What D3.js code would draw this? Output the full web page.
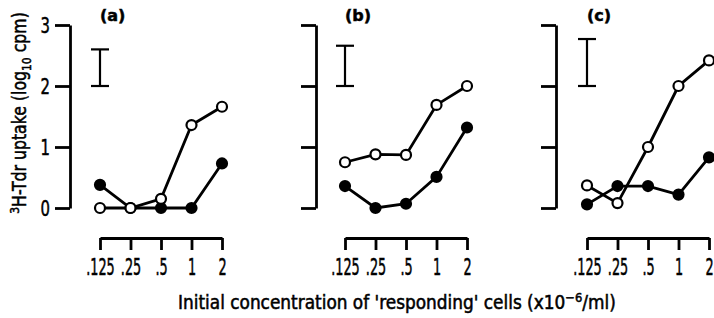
<!DOCTYPE html>
<html>
<head>
<meta charset="utf-8">
<script src="https://cdn.jsdelivr.net/npm/d3@7"></script>
<style>
	body { margin: 0; background: #fff; }
	svg { display: block; }
	text { font-family: "DejaVu Sans Condensed", "DejaVu Sans", sans-serif; fill: #000; stroke: #000; stroke-width: 0.5; }
</style>
</head>
<body>
<div id="chart"></div>
<script>
const concentrations = [".125", ".25", ".5", "1", "2"];
const panelLabels = ["(a)", "(b)", "(c)"];
// log10 cpm, open circles
const openSeries = [
	[0, 0, 0.15, 1.36, 1.66],
	[0.75, 0.88, 0.87, 1.69, 2.0],
	[0.37, 0.08, 1.0, 2.0, 2.42]
];
// log10 cpm, filled circles
const filledSeries = [
	[0.38, 0, 0, 0, 0.73],
	[0.36, 0, 0.07, 0.51, 1.32],
	[0.06, 0.36, 0.36, 0.22, 0.83]
];
// error bar (2 to top)
const errorBars = [[2, 2.6], [2, 2.66], [2, 2.77]];
const yTicks = [0, 1, 2, 3];

const width = 714, height = 318;
const svg = d3.select("#chart").append("svg")
	.attr("width", width)
	.attr("height", height);

const y = d3.scaleLinear().domain([0, 3]).range([208, 25]);
const panelLeft = [100, 345, 587];
const axisX = [70, 316, 556];
const panelWidth = 122;
const xAxisY = 238;
const squeeze = 0.62;

panelLabels.forEach((label, p) => {
	const g = svg.append("g");
	const x = d3.scalePoint()
		.domain(concentrations)
		.range([panelLeft[p], panelLeft[p] + panelWidth]);

	// Y axis
	const yAxis = d3.axisLeft(y)
		.tickValues(yTicks)
		.tickSize(15)
		.tickSizeOuter(0)
		.tickFormat(p == 0 ? d3.format("d") : "");
	const yg = g.append("g")
		.attr("transform", "translate(" + axisX[p] + ",0)")
		.call(yAxis);
	yg.select(".domain").attr("stroke-width", 2.8);
	yg.selectAll(".tick line").attr("stroke-width", 2.8);
	yg.selectAll(".tick text")
		.attr("font-size", 22)
		.attr("transform", "scale(0.75,1)")
		.attr("x", -20 / 0.75)
		.attr("dy", "0.36em");

	// X axis (line on top, ticks pointing down)
	const xAxis = d3.axisBottom(x)
		.tickSize(12)
		.tickSizeOuter(0);
	const xg = g.append("g")
		.attr("transform", "translate(0," + xAxisY + ")")
		.call(xAxis);
	xg.select(".domain").attr("stroke-width", 2.8);
	xg.selectAll(".tick line").attr("stroke-width", 2.8);
	xg.selectAll(".tick text")
		.attr("font-size", 23)
		.attr("transform", "scale(" + squeeze + ",1)")
		.attr("y", 21);

	// Panel label
	g.append("text")
		.attr("x", x(concentrations[0]))
		.attr("y", 21)
		.attr("font-size", 16)
		.attr("font-weight", "bold")
		.style("font-family", "'DejaVu Sans', sans-serif")
		.text(label);

	// Error bar
	const eb = errorBars[p];
	const ex = x(concentrations[0]);
	const eg = g.append("g").attr("stroke", "#000").attr("stroke-width", 2.2);
	eg.append("line").attr("x1", ex).attr("x2", ex).attr("y1", y(eb[0])).attr("y2", y(eb[1]));
	eg.append("line").attr("x1", ex - 9).attr("x2", ex + 9).attr("y1", y(eb[0])).attr("y2", y(eb[0]));
	eg.append("line").attr("x1", ex - 9).attr("x2", ex + 9).attr("y1", y(eb[1])).attr("y2", y(eb[1]));

	const line = d3.line()
		.x((d, i) => x(concentrations[i]))
		.y(d => y(d));

	const series = [
		{ values: filledSeries[p], fill: "#000" },
		{ values: openSeries[p], fill: "#fff" }
	];
	series.forEach(s => {
		g.append("path")
			.datum(s.values)
			.attr("d", line)
			.attr("fill", "none")
			.attr("stroke", "#000")
			.attr("stroke-width", 2.8);
	});
	series.forEach(s => {
		g.selectAll()
			.data(s.values)
			.enter()
			.append("circle")
			.attr("cx", (d, i) => x(concentrations[i]))
			.attr("cy", d => y(d))
			.attr("r", 5)
			.attr("fill", s.fill)
			.attr("stroke", "#000")
			.attr("stroke-width", 2.2);
	});
});

// Y axis title
const yTitle = svg.append("text")
	.attr("transform", "translate(26,113) rotate(-90) scale(0.92,1)")
	.attr("text-anchor", "middle")
	.attr("font-size", 19);
yTitle.append("tspan").attr("font-size", 13).attr("dy", -7).text("3");
yTitle.append("tspan").attr("dy", 7).text("H-Tdr uptake (log");
yTitle.append("tspan").attr("font-size", 13).attr("dy", 5).text("10");
yTitle.append("tspan").attr("dy", -5).text(" cpm)");

// X axis title, squeezed to span the same width as the original
const xTitle = svg.append("text")
	.attr("font-size", 19);
xTitle.append("tspan").text("Initial concentration of 'responding' cells (x10");
xTitle.append("tspan").attr("font-size", 13).attr("dy", -7).text("−6");
xTitle.append("tspan").attr("dy", 7).text("/ml)");
const tb = xTitle.node().getBBox();
const titleLeft = 178, titleWidth = 438;
xTitle.attr("transform", "translate(" + titleLeft + ",309) scale(" + (titleWidth / tb.width) + ",1) translate(" + (-tb.x) + ",0)");
</script>
</body>
</html>
